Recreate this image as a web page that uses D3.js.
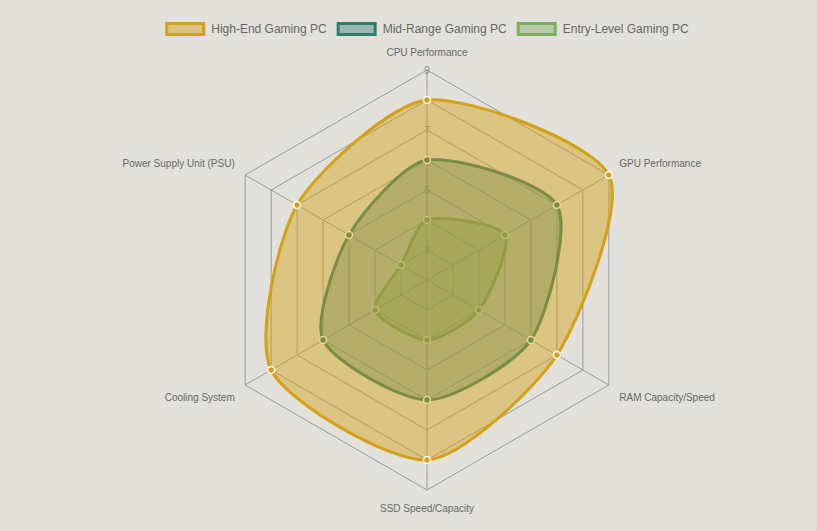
<html><head>
<script src="https://d3js.org/d3.v7.min.js"></script>
<style>
body { margin: 0; background: #e1e0db; font-family: "Liberation Sans", Arial, Helvetica, sans-serif; }
</style>
</head>
<body>
<svg id="chart" width="817" height="531"></svg>
<script>
    const categories = ["CPU Performance", "GPU Performance", "RAM Capacity/Speed", "SSD Speed/Capacity", "Cooling System", "Power Supply Unit (PSU)"];
    const seriesNames = ["High-End Gaming PC", "Mid-Range Gaming PC", "Entry-Level Gaming PC"];
    const highEnd = [8, 9, 7, 8, 8, 7];
    const midRange = [6, 7, 6, 6, 6, 5];
    const entryLevel = [4, 5, 4, 4, 4, 3];
    const tickValues = [2, 3, 4, 5, 6, 7, 8, 9];

    const colors = ["#d4a017", "#2f7d6d", "#7fad5f"];
    const fills = ["rgba(212,160,23,0.45)", "rgba(47,125,109,0.4)", "rgba(127,173,95,0.4)"];
    const allSeries = [highEnd, midRange, entryLevel];

    const svg = d3.select("#chart");
    const cx = 427, cy = 280, radius = 210;
    const r = d3.scaleLinear().domain([2, 9]).range([0, radius]);
    const angle = d3.scaleLinear().domain([0, categories.length]).range([-Math.PI / 2, 1.5 * Math.PI]);
    const pt = (i, v) => [cx + r(v) * Math.cos(angle(i)), cy + r(v) * Math.sin(angle(i))];

    // grid rings (skip the center tick)
    const grid = svg.append("g");
    tickValues.slice(1).forEach(t => {
        grid.append("polygon")
            .attr("points", categories.map((c, i) => pt(i, t).join(",")).join(" "))
            .attr("fill", "none")
            .attr("stroke", "#999")
            .attr("stroke-width", 1);
    });
    categories.forEach((c, i) => {
        const p = pt(i, 9);
        grid.append("line")
            .attr("x1", cx).attr("y1", cy).attr("x2", p[0]).attr("y2", p[1])
            .attr("stroke", "#999").attr("stroke-width", 1);
    });

    // tick labels
    svg.append("g").selectAll("text").data(tickValues.slice(1))
        .join("text")
        .attr("x", cx)
        .attr("y", d => cy - r(d))
        .attr("dy", "0.35em")
        .attr("text-anchor", "middle")
        .attr("font-size", 10)
        .attr("fill", "#888")
        .text(d => d);

    // point labels
    svg.append("g").selectAll("text").data(categories)
        .join("text")
        .attr("x", (d, i) => cx + (radius + 12) * Math.cos(angle(i)))
        .attr("y", (d, i) => {
            const y = cy + (radius + 12) * Math.sin(angle(i));
            return Math.sin(angle(i)) < 0 ? y - 6 : y + 6;
        })
        .attr("dy", "0.35em")
        .attr("text-anchor", (d, i) => {
            const c = Math.cos(angle(i));
            return Math.abs(c) < 0.01 ? "middle" : (c > 0 ? "start" : "end");
        })
        .attr("font-size", 10)
        .attr("fill", "#666")
        .text(d => d);

    // smooth closed path, same spline rule as chart.js with tension
    function splinePath(points, t) {
        const n = points.length;
        const cps = points.map((p, i) => {
            const a = points[(i - 1 + n) % n], b = points[(i + 1) % n];
            const d01 = Math.hypot(p[0] - a[0], p[1] - a[1]);
            const d12 = Math.hypot(b[0] - p[0], b[1] - p[1]);
            const s01 = d01 / (d01 + d12), s12 = d12 / (d01 + d12);
            const fa = t * s01, fb = t * s12;
            return {
                prev: [p[0] - fa * (b[0] - a[0]), p[1] - fa * (b[1] - a[1])],
                next: [p[0] + fb * (b[0] - a[0]), p[1] + fb * (b[1] - a[1])]
            };
        });
        const path = d3.path();
        path.moveTo(points[0][0], points[0][1]);
        for (let i = 0; i < n; i++) {
            const j = (i + 1) % n;
            path.bezierCurveTo(cps[i].next[0], cps[i].next[1], cps[j].prev[0], cps[j].prev[1], points[j][0], points[j][1]);
        }
        path.closePath();
        return path.toString();
    }

    // datasets, first one on top
    const layers = svg.append("g");
    [2, 1, 0].forEach(k => {
        const pts = allSeries[k].map((v, i) => pt(i, v));
        const g = layers.append("g");
        g.append("path")
            .attr("d", splinePath(pts, 0.25))
            .attr("fill", fills[k])
            .attr("stroke", colors[k])
            .attr("stroke-width", 3);
        g.selectAll("circle").data(pts)
            .join("circle")
            .attr("cx", d => d[0])
            .attr("cy", d => d[1])
            .attr("r", 3.5)
            .attr("fill", colors[k])
            .attr("stroke", "#fff")
            .attr("stroke-width", 1.5);
    });

    // legend
    const legend = svg.append("g");
    const tmp = svg.append("text").attr("font-size", 12);
    const widths = seriesNames.map(n => { tmp.text(n); return tmp.node().getComputedTextLength(); });
    tmp.remove();
    const itemW = widths.map(w => 40 + 6 + w);
    const total = d3.sum(itemW) + 10 * (seriesNames.length - 1);
    let x = 427 - total / 2;
    seriesNames.forEach((n, k) => {
        legend.append("rect")
            .attr("x", x + 1.5).attr("y", 23.5)
            .attr("width", 37).attr("height", 11)
            .attr("fill", fills[k])
            .attr("stroke", colors[k])
            .attr("stroke-width", 3);
        legend.append("text")
            .attr("x", x + 46).attr("y", 29)
            .attr("dy", "0.35em")
            .attr("font-size", 12)
            .attr("fill", "#666")
            .text(n);
        x += itemW[k] + 10;
    });
</script>
</body>
</html>
